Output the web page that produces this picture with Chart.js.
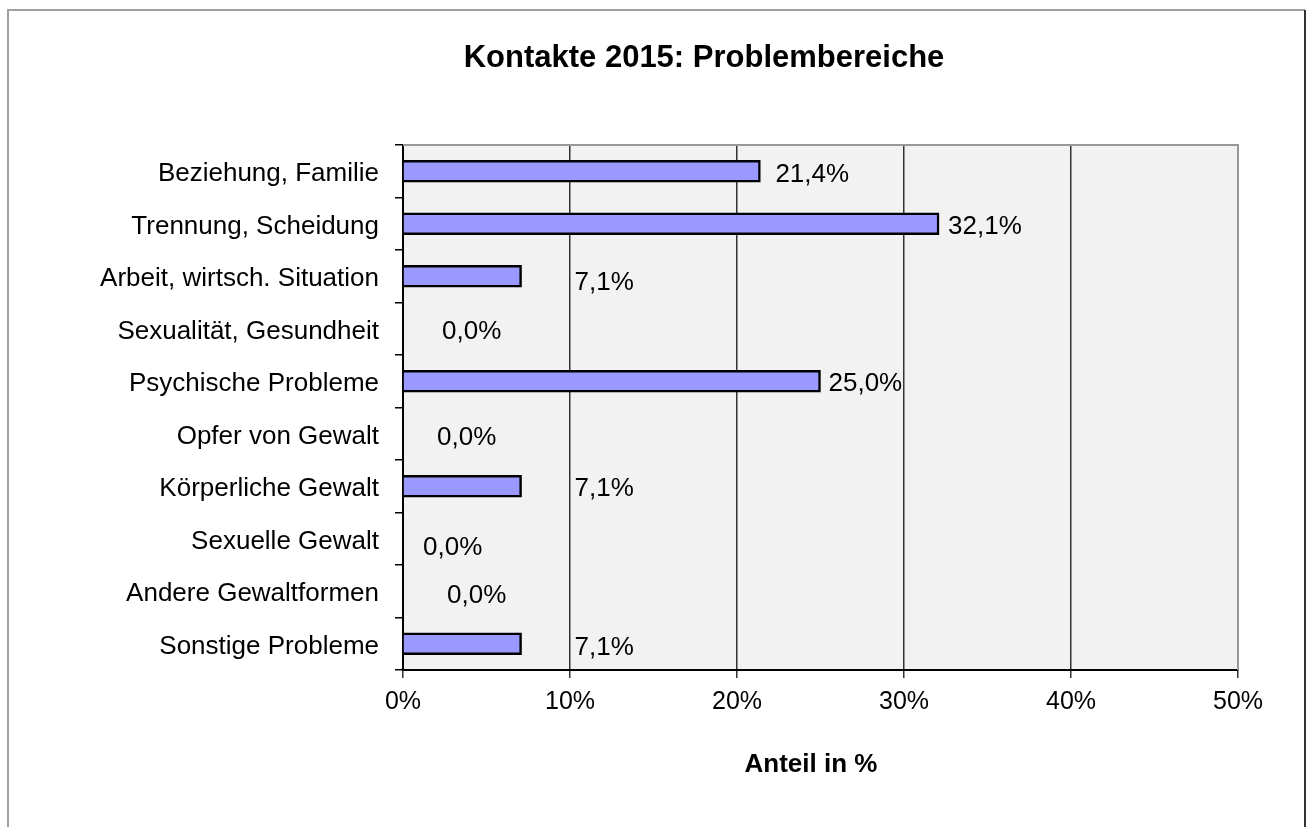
<!DOCTYPE html>
<html>
<head>
<meta charset="utf-8">
<script src="https://cdn.jsdelivr.net/npm/chart.js@4.4.1/dist/chart.umd.min.js"></script>
<style>
  html, body { margin: 0; padding: 0; background: #fff; }
  #wrap { width: 1309px; height: 827px; }
</style>
</head>
<body>
<div id="wrap"><canvas id="chart" width="1309" height="827"></canvas></div>
<script>
// ===== DATA =====
const categories = [
  'Beziehung, Familie',
  'Trennung, Scheidung',
  'Arbeit, wirtsch. Situation',
  'Sexualität, Gesundheit',
  'Psychische Probleme',
  'Opfer von Gewalt',
  'Körperliche Gewalt',
  'Sexuelle Gewalt',
  'Andere Gewaltformen',
  'Sonstige Probleme'
];
const shares = [21.4, 32.1, 7.1, 0.0, 25.0, 0.0, 7.1, 0.0, 0.0, 7.1];
const xTicks = [0, 10, 20, 30, 40, 50];
const chartTitle = 'Kontakte 2015: Problembereiche';
const axisTitle = 'Anteil in %';

const FONT = "'Liberation Sans', Arial, sans-serif";

// background, outer frame, grey plot area
const framePlugin = {
  id: 'frame',
  beforeDraw(chart) {
    const ctx = chart.ctx, a = chart.chartArea;
    ctx.save();
    ctx.fillStyle = '#fff';
    ctx.fillRect(0, 0, chart.width, chart.height);
    ctx.fillStyle = '#f2f2f2';
    ctx.fillRect(a.left, a.top, a.right - a.left, a.bottom - a.top);
    ctx.lineWidth = 2;
    ctx.strokeStyle = '#a0a0a0';
    ctx.beginPath();
    ctx.moveTo(8, chart.height); ctx.lineTo(8, 10); ctx.lineTo(1305, 10);
    ctx.stroke();
    ctx.strokeStyle = '#333';
    ctx.beginPath();
    ctx.moveTo(1305, 10); ctx.lineTo(1305, chart.height);
    ctx.stroke();
    ctx.restore();
  },
  beforeDatasetsDraw(chart) {
    const ctx = chart.ctx, a = chart.chartArea;
    ctx.save();
    ctx.lineWidth = 2;
    ctx.strokeStyle = '#999';
    ctx.beginPath();
    ctx.moveTo(a.left, a.top); ctx.lineTo(a.right, a.top); ctx.lineTo(a.right, a.bottom);
    ctx.stroke();
    ctx.restore();
  },
  afterDraw(chart) {
    const ctx = chart.ctx;
    ctx.save();
    ctx.fillStyle = '#000';
    ctx.textAlign = 'center';
    ctx.textBaseline = 'middle';
    ctx.font = 'bold 31px ' + FONT;
    ctx.fillText(chartTitle, 704, 58);
    ctx.font = 'bold 26px ' + FONT;
    ctx.fillText(axisTitle, 811, 765);
    ctx.restore();
  }
};

// value labels, nudged like the Excel original
const valueLabels = {
  id: 'valueLabels',
  afterDatasetsDraw(chart, args, opts) {
    const ctx = chart.ctx;
    const meta = chart.getDatasetMeta(0);
    ctx.save();
    ctx.fillStyle = '#000';
    ctx.font = '26px ' + FONT;
    ctx.textAlign = 'left';
    ctx.textBaseline = 'middle';
    meta.data.forEach((bar, i) => {
      const txt = shares[i].toFixed(1).replace('.', ',') + '%';
      ctx.fillText(txt, bar.x + opts.dx[i], bar.y + opts.dy[i]);
    });
    ctx.restore();
  }
};

new Chart(document.getElementById('chart'), {
  type: 'bar',
  data: {
    labels: categories,
    datasets: [{
      data: shares,
      backgroundColor: '#9999ff',
      borderColor: '#000',
      borderWidth: 2.5,
      borderSkipped: 'start',
      barThickness: 22
    }]
  },
  options: {
    indexAxis: 'y',
    responsive: false,
    animation: false,
    layout: { padding: { top: 145, right: 71, left: 0, bottom: 0 } },
    plugins: {
      legend: { display: false },
      title: { display: false },
      tooltip: { enabled: false },
      valueLabels: {
        dx: [15, 9, 53, 39, 8, 34, 53, 20, 44, 53],
        dy: [4, 3, 7, 3, 3, 4, 3, 9, 5, 4]
      }
    },
    scales: {
      x: {
        min: 0, max: 50,
        afterBuildTicks(scale) { scale.ticks = xTicks.map(v => ({ value: v })); },
        afterFit(scale) { scale.height = 157; },
        grid: { color: '#333', lineWidth: 1.5, tickLength: 8, tickColor: '#333' },
        border: { color: '#000', width: 2 },
        ticks: {
          color: '#000',
          font: { family: FONT, size: 25 },
          padding: 9,
          callback: v => v + '%'
        }
      },
      y: {
        afterFit(scale) { scale.width = 403; },
        grid: { drawOnChartArea: false, tickLength: 8, tickColor: '#000', lineWidth: 1.5, offset: true },
        border: { color: '#000', width: 2 },
        ticks: {
          color: '#000',
          font: { family: FONT, size: 26 },
          padding: 16,
          labelOffset: 3
        }
      }
    }
  },
  plugins: [framePlugin, valueLabels]
});
</script>
</body>
</html>
